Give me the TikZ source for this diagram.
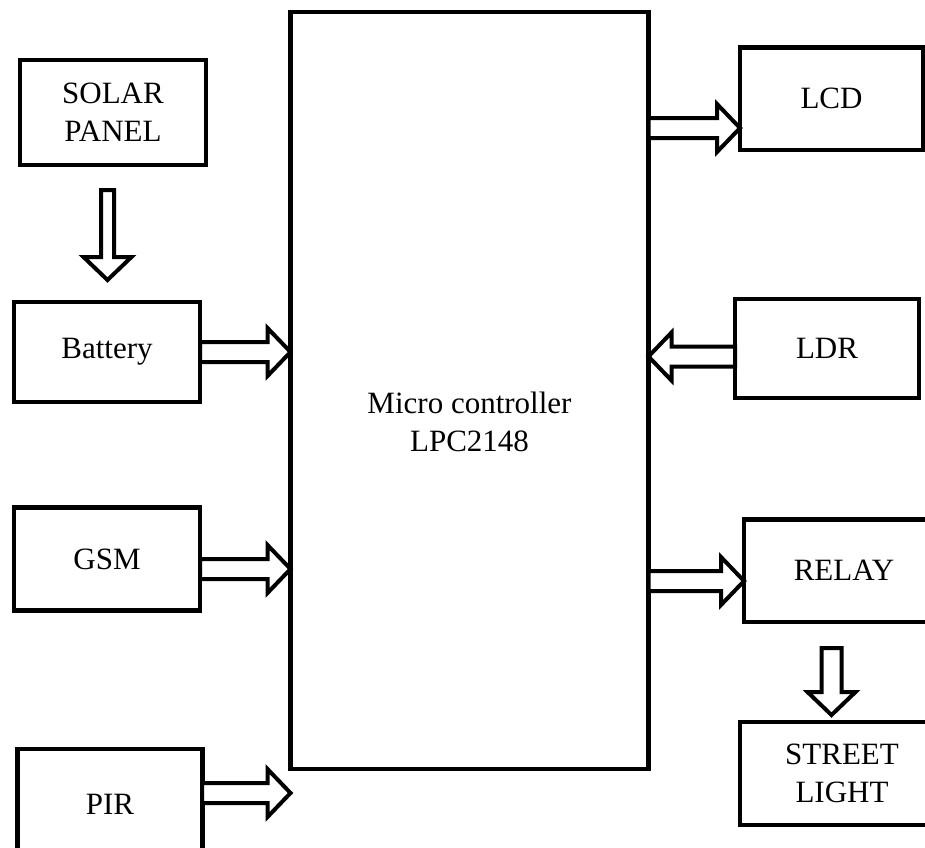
\documentclass[tikz,border=0pt]{standalone}
\usepackage{fontspec}
\setmainfont{Liberation Serif}
\usetikzlibrary{calc}

%% A hollow block arrow from #2 to #3, #1 is the half width of the shaft.
\newcommand{\blockArrow}[3][10pt]{%
  \coordinate (headBase) at ($(#3)!23pt!(#2)$);
  \path[arrowStyle] ($(#2)!#1!-90:(#3)$) -- ($(headBase)!#1!90:(#2)$)
    -- ($(headBase)!24pt!90:(#2)$) -- (#3) -- ($(headBase)!24pt!-90:(#2)$)
    -- ($(headBase)!#1!-90:(#2)$) -- ($(#2)!#1!90:(#3)$) -- cycle;
}

\begin{document}
\begin{tikzpicture}[%%
  x=1pt,y=-1pt,
  boxStyle/.style={draw,line width=4.5pt,rectangle,outer sep=0pt,inner sep=0pt,
    align=center,font=\fontsize{31}{38}\selectfont},
  arrowStyle/.style={draw,line width=4pt,line join=miter,fill=white}
]
%%
\useasboundingbox (0,0) rectangle (925,847);
\clip (0,0) rectangle (925,847);
%%
%% The micro controller in the middle.
\node[boxStyle,minimum width=358pt,minimum height=757pt] (mcu) at (469.5,390.5) {};
\node[align=center,font=\fontsize{31}{38}\selectfont] (mcuText) at (469.5,422) {Micro controller\\LPC2148};
%%
%% Blocks on the left.
\node[boxStyle,minimum width=186pt,minimum height=105pt] (solar) at (113,112.5) {SOLAR\\PANEL};
\node[boxStyle,minimum width=186pt,minimum height=100pt] (battery) at (107,352) {Battery};
\node[boxStyle,minimum width=186pt,minimum height=103pt] (gsm) at (107,559) {GSM};
\node[boxStyle,minimum width=185pt,minimum height=110pt] (pir) at (110,804) {PIR};
%%
%% Blocks on the right.
\node[boxStyle,minimum width=183pt,minimum height=102.5pt] (lcd) at (831.5,98.75) {LCD};
\node[boxStyle,minimum width=184pt,minimum height=99pt] (ldr) at (827,348.5) {LDR};
\node[boxStyle,minimum width=200pt,minimum height=102.5pt] (relay) at (844,570.75) {RELAY};
\node[boxStyle,minimum width=204pt,minimum height=103pt] (street) at (842,773.5) {STREET\\LIGHT};
%%
%% Ends of the arrows.
\coordinate (solarOut) at (107.5,190);
\coordinate (batteryIn) at (107.5,280);
\coordinate (batteryTip) at (battery.east -| mcu.west);
\coordinate (gsmTail) at (200,569);
\coordinate (gsmTip) at (gsmTail -| mcu.west);
\coordinate (pirTail) at (202,793);
\coordinate (pirTip) at (pirTail -| mcu.west);
\coordinate (lcdTip) at (740,128);
\coordinate (lcdTail) at (lcdTip -| mcu.east);
\coordinate (ldrTip) at ($(ldr.west -| mcu.east)+(0,8)$);
\coordinate (ldrTail) at (ldrTip -| ldr.west);
\coordinate (relayTip) at (744,581);
\coordinate (relayTail) at (relayTip -| mcu.east);
\coordinate (relayOut) at (831.5,648);
\coordinate (streetIn) at (831.5,715);
%%
%% The arrows.
\blockArrow[6.5pt]{solarOut}{batteryIn}
\blockArrow{battery.east}{batteryTip}
\blockArrow{gsmTail}{gsmTip}
\blockArrow{pirTail}{pirTip}
\blockArrow{lcdTail}{lcdTip}
\blockArrow{ldrTail}{ldrTip}
\blockArrow{relayTail}{relayTip}
\blockArrow{relayOut}{streetIn}
\end{tikzpicture}
\end{document}
